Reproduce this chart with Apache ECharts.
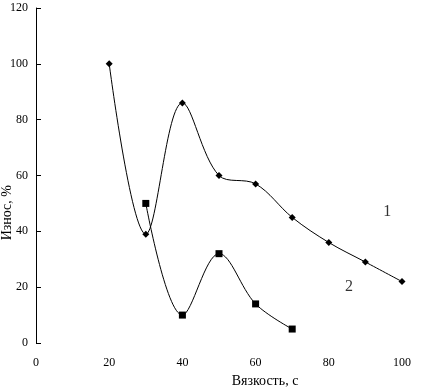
<!DOCTYPE html>
<html style='height: 100%'>
<head>
    <meta charset='utf-8'>
</head>
<body style='height: 100%; margin: 0; background: #fff'>
    <div id='container' style='width: 435px; height: 388px'></div>
    <script type='text/javascript' src='https://cdn.jsdelivr.net/npm/echarts@6/dist/echarts.min.js'></script>
    <script type="text/javascript">

// кривая 1 (ромбы) и кривая 2 (квадраты)
var visc1 = [20, 30, 40, 50, 60, 70, 80, 90, 100];
var wear1 = [100, 39, 86, 60, 57, 45, 36, 29, 22];
var visc2 = [30, 40, 50, 60, 70];
var wear2 = [50, 10, 32, 14, 5];
// подписи кривых
var curveLabels = [['1', 96, 47], ['2', 85.5, 20]];

var dom = document.getElementById("container");
var myChart = echarts.init(dom);
var font = 'Liberation Serif, DejaVu Serif, serif';

function pairs(xs, ys) {
    var out = [];
    for (let i = 0; i < xs.length; i++) out.push([xs[i], ys[i]]);
    return out;
}

var option = {
    animation: false,
    grid: { left: 36, right: 33, top: 8, bottom: 45, outerBoundsMode: 'none', containLabel: false },
    // подпись оси Y (смещена вниз, как в оригинале)
    graphic: [{
        type: 'text', left: 0, top: 185,
        rotation: Math.PI / 2,
        style: { text: 'Износ, %', fontFamily: font, fontSize: 14, fill: '#000' }
    }],
    xAxis: {
        type: 'value', min: 0, max: 100, interval: 20,
        name: 'Вязкость, с', nameLocation: 'middle', nameGap: 31,
        nameTextStyle: { fontFamily: font, fontSize: 14, color: '#000', padding: [0, 0, 0, 92] },
        axisLine: { show: false },
        axisTick: { show: false },
        splitLine: { show: false },
        axisLabel: { fontFamily: font, fontSize: 12, color: '#000', margin: 14 }
    },
    yAxis: {
        type: 'value', min: 0, max: 120, interval: 20,
        axisLine: { show: true, lineStyle: { color: '#000', width: 1 } },
        axisTick: { show: true, inside: true, length: 5, lineStyle: { color: '#000' } },
        splitLine: { show: false },
        axisLabel: { fontFamily: font, fontSize: 12, color: '#000', margin: 8 }
    },
    series: [{
        type: 'line',
        data: pairs(visc1, wear1),
        smooth: 0.35,
        symbol: 'diamond', symbolSize: 7,
        itemStyle: { color: '#000' },
        lineStyle: { color: '#000', width: 1 }
    }, {
        type: 'line',
        data: pairs(visc2, wear2),
        smooth: 0.35,
        symbol: 'rect', symbolSize: 7,
        itemStyle: { color: '#000' },
        lineStyle: { color: '#000', width: 1 }
    }, {
        type: 'scatter',
        symbolSize: 0,
        data: curveLabels.map(function (d) { return { value: [d[1], d[2]], name: d[0] }; }),
        label: {
            show: true, position: 'inside', formatter: '{b}',
            fontFamily: font, fontSize: 16, color: '#000'
        }
    }]
};

myChart.setOption(option, true);
    </script>
</body>
</html>
